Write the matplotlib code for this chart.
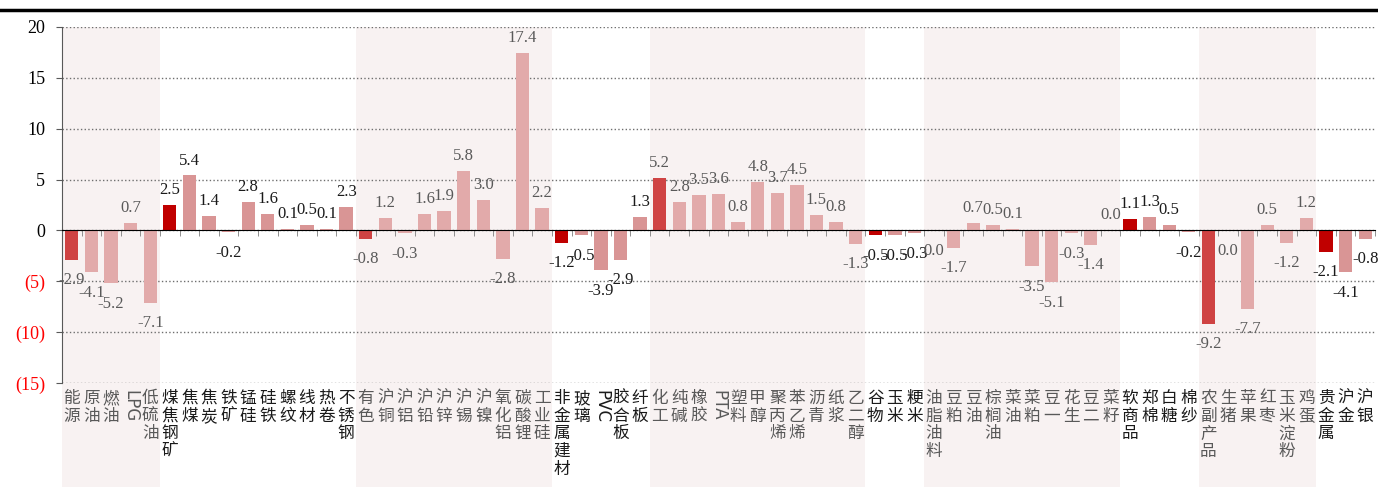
import numpy as np
import matplotlib.pyplot as plt
from matplotlib.patches import Rectangle
from matplotlib.lines import Line2D

plt.rcParams['font.family'] = ['Liberation Serif', 'Noto Sans CJK SC']

# categories, first item of each group is the sector index
names = ["能源", "原油", "燃油", "LPG", "低硫油",
         "煤焦钢矿", "焦煤", "焦炭", "铁矿", "锰硅", "硅铁", "螺纹", "线材", "热卷", "不锈钢",
         "有色", "沪铜", "沪铝", "沪铅", "沪锌", "沪锡", "沪镍", "氧化铝", "碳酸锂", "工业硅",
         "非金属建材", "玻璃", "PVC", "胶合板", "纤板",
         "化工", "纯碱", "橡胶", "PTA", "塑料", "甲醇", "聚丙烯", "苯乙烯", "沥青", "纸浆", "乙二醇",
         "谷物", "玉米", "粳米",
         "油脂油料", "豆粕", "豆油", "棕榈油", "菜油", "菜粕", "豆一", "花生", "豆二", "菜籽",
         "软商品", "郑棉", "白糖", "棉纱",
         "农副产品", "生猪", "苹果", "红枣", "玉米淀粉", "鸡蛋",
         "贵金属", "沪金", "沪银"]
values = [-2.9, -4.1, -5.2, 0.7, -7.1,
          2.5, 5.4, 1.4, -0.2, 2.8, 1.6, 0.1, 0.5, 0.1, 2.3,
          -0.8, 1.2, -0.3, 1.6, 1.9, 5.8, 3.0, -2.8, 17.4, 2.2,
          -1.2, -0.5, -3.9, -2.9, 1.3,
          5.2, 2.8, 3.5, 3.6, 0.8, 4.8, 3.7, 4.5, 1.5, 0.8, -1.3,
          -0.5, -0.5, -0.3,
          -0.02, -1.7, 0.7, 0.5, 0.1, -3.5, -5.1, -0.3, -1.4, 0.02,
          1.1, 1.3, 0.5, -0.2,
          -9.2, -0.02, -7.7, 0.5, -1.2, 1.2,
          -2.1, -4.1, -0.8]
group_sizes = [5, 10, 10, 5, 11, 3, 10, 4, 6, 3]

fig = plt.figure(figsize=(13.78, 4.87), dpi=100)
ax = fig.add_axes([0.045, 0.2136, 0.9528, 0.731])

x = np.arange(len(names))
starts = np.cumsum([0] + group_sizes[:-1])
colors, txt_colors = [], []
for g, (s, n) in enumerate(zip(starts, group_sizes)):
    shaded = g % 2 == 0
    if shaded:
        ax.add_patch(Rectangle((s - 0.5, -0.3), n, 1.3, transform=ax.get_xaxis_transform(),
                               facecolor='#F8F2F2', edgecolor='none', zorder=0, clip_on=False))
    for k in range(n):
        if k == 0:
            colors.append('#CF4343' if shaded else '#C00000')
        else:
            colors.append('#E2AAAA' if shaded else '#D99595')
        txt_colors.append('#595959' if shaded else '#1a1a1a')

ax.bar(x, values, width=0.68, color=colors, zorder=2)

for i, v in enumerate(values):
    txt = f"{v:.1f}"
    if txt == "-0.0":
        txt = "0.0"
    if v >= 0:
        ax.annotate(txt, (i, v), xytext=(0, 5), textcoords='offset points',
                    ha='center', va='bottom', fontsize=12, color=txt_colors[i])
    else:
        ax.annotate(txt, (i, v), xytext=(0, -9), textcoords='offset points',
                    ha='center', va='top', fontsize=12, color=txt_colors[i])

for i, name in enumerate(names):
    if name.isascii():
        ax.text(i, -0.02, name, rotation=-90, ha='center', va='top', fontsize=12,
                family='DejaVu Sans', color=txt_colors[i], transform=ax.get_xaxis_transform())
    else:
        ax.text(i, -0.02, "\n".join(name), ha='center', va='top', fontsize=12,
                linespacing=1.05, family='Noto Sans CJK SC', color=txt_colors[i],
                transform=ax.get_xaxis_transform())

ax.set_xlim(-0.5, len(names) - 0.5)
ax.set_ylim(-15, 20)
yt = list(range(-15, 25, 5))
ax.set_yticks(yt)
ax.set_yticklabels([str(t) if t >= 0 else f"({-t})" for t in yt], fontsize=13)
for lab, t in zip(ax.get_yticklabels(), yt):
    lab.set_color('red' if t < 0 else 'black')
ax.tick_params(axis='y', length=4, color='#595959', pad=8)

ax.set_xticks([])
ax.set_xticks(np.arange(len(names) + 1) - 0.5, minor=True)
ax.tick_params(axis='x', which='minor', length=4, direction='out', color='#7f7f7f')

ax.yaxis.grid(True, linestyle=':', color='#6f6f6f', lw=1)
ax.set_axisbelow(True)
ax.spines['top'].set_visible(False)
ax.spines['right'].set_visible(False)
ax.spines['left'].set_color('#595959')
ax.spines['bottom'].set_position(('data', 0))
ax.spines['bottom'].set_color('black')
ax.spines['bottom'].set_zorder(3)

fig.add_artist(Line2D([0, 1], [1 - 10 / 487] * 2, color='black', lw=2.5))

fig.savefig("out.png", dpi=100)
